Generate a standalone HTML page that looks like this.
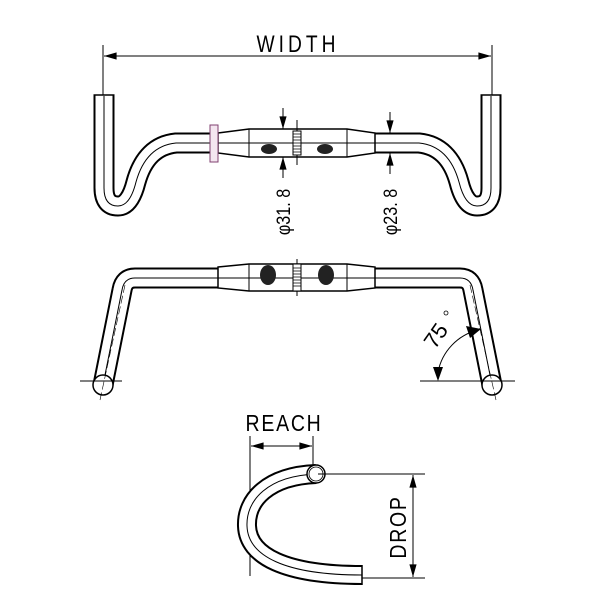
<!DOCTYPE html>
<html><head><meta charset="utf-8"><style>
html,body{margin:0;padding:0;background:#fff}
svg{display:block}
text{font-family:"Liberation Sans",sans-serif;fill:#000}
</style></head><body>
<svg width="600" height="600" viewBox="0 0 600 600" xmlns="http://www.w3.org/2000/svg">
<defs>
<marker id="a" viewBox="0 0 14 10" refX="14" refY="5" markerWidth="14" markerHeight="9" orient="auto-start-reverse" markerUnits="userSpaceOnUse"><path d="M0,1 L14,5 L0,9 z" fill="#000"/></marker>
</defs>
<!-- ===== TOP VIEW ===== -->
<text x="298" y="52" font-size="24" text-anchor="middle" letter-spacing="5" transform="translate(298 0) scale(0.8 1) translate(-298 0)">WIDTH</text>
<line x1="103" y1="45" x2="103" y2="96" stroke="#000" stroke-width="1"/>
<line x1="492" y1="45" x2="492" y2="96" stroke="#000" stroke-width="1"/>
<line x1="104" y1="56" x2="491" y2="56" stroke="#000" stroke-width="1" marker-start="url(#a)" marker-end="url(#a)"/>
<g fill="none" stroke-linejoin="round">
<path d="M104,95 L104,188 Q104,206 118,206 Q130,206 136,182 Q146,146 176,143 L224,143" stroke="#000" stroke-width="21"/>
<path d="M104,95 L104,188 Q104,206 118,206 Q130,206 136,182 Q146,146 176,143 L224,143" stroke="#fff" stroke-width="17"/>
<path d="M104,96 L104,188 Q104,206 118,206 Q130,206 136,182 Q146,146 176,143 L224,143" stroke="#000" stroke-width="1"/>
<path d="M491,95 L491,188 Q491,206 477,206 Q465,206 459,182 Q449,146 419,143 L370,143" stroke="#000" stroke-width="21"/>
<path d="M491,95 L491,188 Q491,206 477,206 Q465,206 459,182 Q449,146 419,143 L370,143" stroke="#fff" stroke-width="17"/>
<path d="M491,96 L491,188 Q491,206 477,206 Q465,206 459,182 Q449,146 419,143 L370,143" stroke="#000" stroke-width="1"/>
</g>
<line x1="93.5" y1="95" x2="114.5" y2="95" stroke="#000" stroke-width="1.5"/>
<line x1="480.5" y1="95" x2="501.5" y2="95" stroke="#000" stroke-width="1.5"/>
<path d="M218,133 L249,129 L347,129 L375,133 L375,153 L347,157 L249,157 L218,153 Z" fill="#fff" stroke="#000" stroke-width="1.5"/>
<line x1="249" y1="129" x2="249" y2="157" stroke="#000" stroke-width="1"/>
<line x1="347" y1="129" x2="347" y2="157" stroke="#000" stroke-width="1"/>
<line x1="375" y1="133" x2="375" y2="153" stroke="#000" stroke-width="1"/>
<line x1="210" y1="143" x2="375" y2="143" stroke="#000" stroke-width="1"/>
<rect x="210" y="125" width="8" height="37" fill="#f4e6f0" stroke="#804070" stroke-width="1"/>
<line x1="297" y1="120" x2="297" y2="165" stroke="#000" stroke-width="1"/>
<rect x="293" y="131" width="8" height="24" fill="#fff" stroke="#000" stroke-width="1"/>
<path d="M293,134h8M293,137h8M293,140h8M293,143h8M293,146h8M293,149h8M293,152h8" stroke="#000" stroke-width="0.8"/>
<ellipse cx="269" cy="149" rx="8" ry="5" fill="#222"/>
<ellipse cx="325" cy="149" rx="8" ry="5" fill="#222"/>
<line x1="283" y1="108" x2="283" y2="129" stroke="#000" stroke-width="1" marker-end="url(#a)"/>
<line x1="283" y1="178" x2="283" y2="157" stroke="#000" stroke-width="1" marker-end="url(#a)"/>
<line x1="390" y1="112" x2="390" y2="133" stroke="#000" stroke-width="1" marker-end="url(#a)"/>
<line x1="390" y1="174" x2="390" y2="153" stroke="#000" stroke-width="1" marker-end="url(#a)"/>
<text x="0" y="0" font-size="19" text-anchor="middle" transform="translate(290 212) rotate(-90) scale(0.85 1)">φ31. 8</text>
<text x="0" y="0" font-size="19" text-anchor="middle" transform="translate(397 212) rotate(-90) scale(0.85 1)">φ23. 8</text>
<!-- ===== FRONT VIEW ===== -->
<g fill="none" stroke-linejoin="round">
<path d="M224,278 L135,278 Q124,278 122,290 L103,385" stroke="#000" stroke-width="21"/>
<path d="M224,278 L135,278 Q124,278 122,290 L103,385" stroke="#fff" stroke-width="17"/>
<path d="M224,278 L135,278 Q124,278 122,290 L103,385" stroke="#000" stroke-width="1"/>
<path d="M370,278 L460,278 Q471,278 473,290 L492,385" stroke="#000" stroke-width="21"/>
<path d="M370,278 L460,278 Q471,278 473,290 L492,385" stroke="#fff" stroke-width="17"/>
<path d="M370,278 L460,278 Q471,278 473,290 L492,385" stroke="#000" stroke-width="1"/>
</g>
<circle cx="103" cy="385" r="10" fill="#fff" stroke="#000" stroke-width="1.5"/>
<circle cx="492" cy="385" r="10" fill="#fff" stroke="#000" stroke-width="1.5"/>
<line x1="80" y1="381" x2="122" y2="381" stroke="#000" stroke-width="1"/>
<line x1="420" y1="381" x2="515" y2="381" stroke="#000" stroke-width="1"/>
<line x1="125" y1="285" x2="100" y2="400" stroke="#000" stroke-width="0.6" stroke-dasharray="8,3"/>
<line x1="470" y1="285" x2="496" y2="400" stroke="#000" stroke-width="0.6" stroke-dasharray="8,3"/>
<path d="M218,267 L249,264 L347,264 L375,267 L375,288 L347,291 L249,291 L218,288 Z" fill="#fff" stroke="#000" stroke-width="1.5"/>
<line x1="218" y1="267" x2="218" y2="288" stroke="#000" stroke-width="1"/>
<line x1="249" y1="264" x2="249" y2="291" stroke="#000" stroke-width="1"/>
<line x1="347" y1="264" x2="347" y2="291" stroke="#000" stroke-width="1"/>
<line x1="375" y1="267" x2="375" y2="288" stroke="#000" stroke-width="1"/>
<line x1="218" y1="278" x2="375" y2="278" stroke="#000" stroke-width="1"/>
<line x1="297" y1="259" x2="297" y2="296" stroke="#000" stroke-width="1"/>
<rect x="293" y="264" width="8" height="27" fill="#fff" stroke="#000" stroke-width="1"/>
<path d="M293,268h8M293,271h8M293,274h8M293,277h8M293,280h8M293,283h8M293,286h8" stroke="#000" stroke-width="0.8"/>
<ellipse cx="268" cy="275" rx="8" ry="10" fill="#222"/>
<ellipse cx="326" cy="275" rx="8" ry="10" fill="#222"/>
<path d="M438,372 A54,54 0 0 1 478,330" fill="none" stroke="#000" stroke-width="1"/>
<path d="M433,367 L443,367 L438,381 Z" fill="#000"/>
<path d="M466,326 L481,329 L470,338 Z" fill="#000"/>
<text x="0" y="0" font-size="22" text-anchor="middle" transform="translate(442 340) rotate(-55)">75</text>
<circle cx="446" cy="313" r="2" fill="none" stroke="#000" stroke-width="0.8"/>
<!-- ===== SIDE VIEW ===== -->
<text x="0" y="0" font-size="23" text-anchor="middle" letter-spacing="2" transform="translate(284 431) scale(0.85 1)">REACH</text>
<line x1="250" y1="436" x2="250" y2="576" stroke="#000" stroke-width="1"/>
<line x1="313" y1="436" x2="313" y2="474" stroke="#000" stroke-width="1"/>
<line x1="251" y1="446" x2="312" y2="446" stroke="#000" stroke-width="1" marker-start="url(#a)" marker-end="url(#a)"/>
<g fill="none">
<path d="M316,474 C268,476 246,500 247,526 C248,556 285,575 362,575" stroke="#000" stroke-width="20"/>
<path d="M316,474 C268,476 246,500 247,526 C248,556 285,575 362,575" stroke="#fff" stroke-width="16"/>
<path d="M316,474 C268,476 246,500 247,526 C248,556 285,575 362,575" stroke="#000" stroke-width="1"/>
</g>
<line x1="362" y1="565" x2="362" y2="585" stroke="#000" stroke-width="1.5"/>
<circle cx="316" cy="474" r="9" fill="#fff" stroke="#000" stroke-width="1.5"/>
<circle cx="316" cy="474" r="7" fill="none" stroke="#000" stroke-width="0.8"/>
<line x1="318" y1="474" x2="425" y2="474" stroke="#000" stroke-width="1"/>
<line x1="362" y1="578" x2="425" y2="578" stroke="#000" stroke-width="1"/>
<line x1="413" y1="475" x2="413" y2="577" stroke="#000" stroke-width="1" marker-start="url(#a)" marker-end="url(#a)"/>
<text x="0" y="0" font-size="23" text-anchor="middle" letter-spacing="2" transform="translate(406 527) rotate(-90) scale(0.85 1)">DROP</text>
</svg>
</body></html>
